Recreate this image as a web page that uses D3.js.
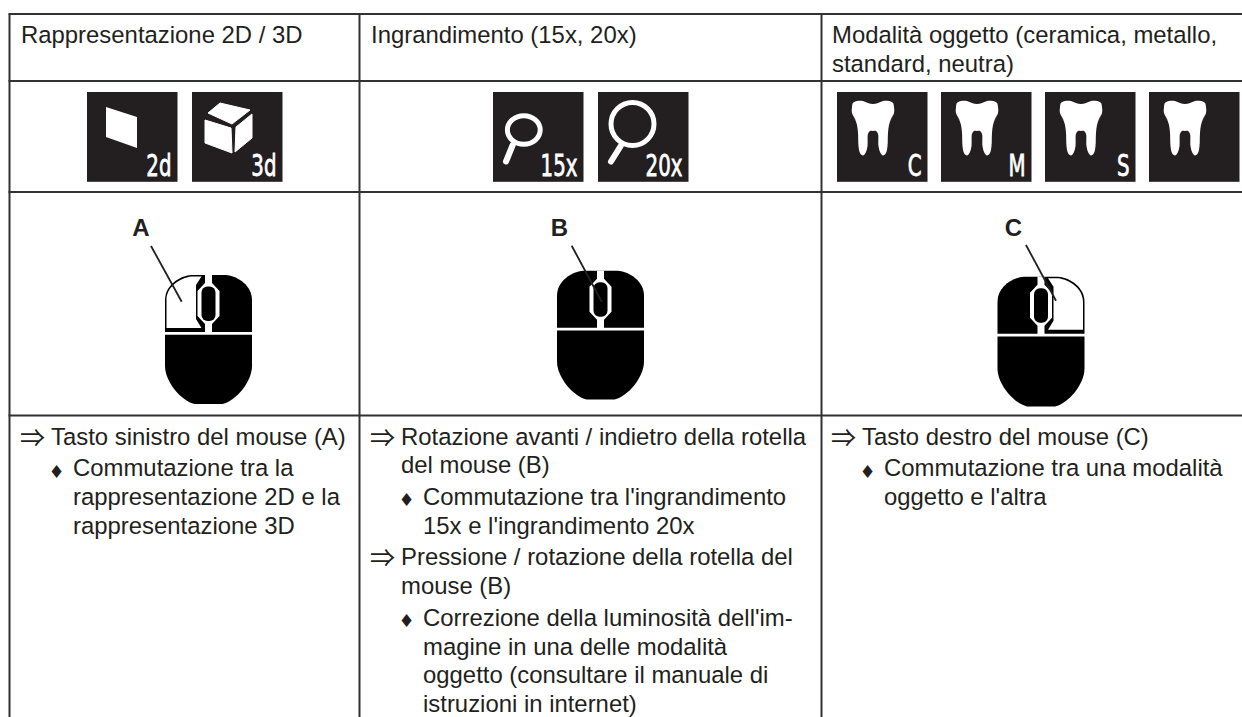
<!DOCTYPE html>
<html>
<head>
<meta charset="utf-8">
<script src="https://cdn.jsdelivr.net/npm/d3@7"></script>
<style>
  html, body { margin: 0; padding: 0; background: #fff; }
  svg { display: block; }
  text { font-family: "Liberation Sans", Arial, sans-serif; fill: #231f20; }
</style>
</head>
<body>
<div id="chart"></div>
<script>
// table content
const columnHeaders = [
  ["Rappresentazione 2D / 3D"],
  ["Ingrandimento (15x, 20x)"],
  ["Modalità oggetto (ceramica, metallo,", "standard, neutra)"]
];
const columnIcons = [
  [["flat", "2d"], ["cube", "3d"]],
  [["lensSmall", "15x"], ["lensBig", "20x"]],
  [["tooth", "C"], ["tooth", "M"], ["tooth", "S"], ["tooth", ""]]
];
const calloutLetters = ["A", "B", "C"];
const activeButtons = ["left", "", "right"];
const stepsFirst = [
  ["step", ["Tasto sinistro del mouse (A)"]],
  ["result", ["Commutazione tra la", "rappresentazione 2D e la", "rappresentazione 3D"]]
];
const stepsSecond = [
  ["step", ["Rotazione avanti / indietro della rotella", "del mouse (B)"]],
  ["result", ["Commutazione tra l'ingrandimento", "15x e l'ingrandimento 20x"]],
  ["step", ["Pressione / rotazione della rotella del", "mouse (B)"]],
  ["result", ["Correzione della luminosità dell'im-", "magine in una delle modalità", "oggetto (consultare il manuale di", "istruzioni in internet)"]]
];
const stepsThird = [
  ["step", ["Tasto destro del mouse (C)"]],
  ["result", ["Commutazione tra una modalità", "oggetto e l'altra"]]
];
const columnSteps = [stepsFirst, stepsSecond, stepsThird];

// icon outlines, in the 90 unit space of one icon
const flatOutline = [[19, 15], [50, 25], [50, 56], [19, 45]];
const cubeOutlines = [
  [[16, 21], [28, 11], [58, 18], [40, 32]],
  [[13, 28], [39, 36], [40, 61], [13, 51]],
  [[44, 35], [60, 22], [60, 46], [43, 60]]
];
const toothHalf = [[0, 3], [5, 2], [10, 0], [16, 0], [20, 2], [21, 6], [21, 12], [18, 18], [16, 24], [15, 32], [14.5, 45], [13, 52], [10, 54.5], [7.5, 52], [5.5, 45], [5, 33], [3, 30], [0, 30]];

const width = 1242, height = 717;
const fontSize = 23.9;
const lineColor = "#333132";
const iconColor = "#231f20";
const iconSize = 90.5;

// layout scales
const columnEdge = d3.scaleOrdinal().domain([0, 1, 2, 3]).range([9.5, 359.5, 821.5, 1242]);
const rowEdge = d3.scaleOrdinal().domain([0, 1, 2, 3, 4]).range([14, 81, 192, 415.5, 717]);
const iconLefts = [[87, 192], [493, 598], [837, 941, 1045, 1149]];
const mouseBoxes = [
  {cx: 208.5, top: 275, bottom: 404},
  {cx: 600.5, top: 270.7, bottom: 399.5},
  {cx: 1041, top: 276.7, bottom: 406.5}
];
const calloutX = [140.5, 559, 1013];
const calloutLines = [
  [[151, 246], [181.7, 301.7]],
  [[571.7, 245.7], [601.7, 301.7]],
  [[1026, 245], [1056, 300.7]]
];
const textLeft = [21, 371, 832];
const stepIndent = 30, resultIndent = 52;
const bodyStart = 444.6, bodyLine = 28.7, blockGap = 3;

const svg = d3.select("#chart").append("svg")
  .attr("width", width).attr("height", height);

// table rules
const rules = svg.append("g").attr("stroke", lineColor).attr("stroke-width", 2);
rules.selectAll("line.h").data([0, 1, 2, 3]).enter().append("line")
  .attr("class", "h")
  .attr("x1", columnEdge(0) - 1).attr("x2", width)
  .attr("y1", d => rowEdge(d)).attr("y2", d => rowEdge(d));
rules.selectAll("line.v").data([0, 1, 2]).enter().append("line")
  .attr("class", "v")
  .attr("x1", d => columnEdge(d)).attr("x2", d => columnEdge(d))
  .attr("y1", rowEdge(0)).attr("y2", rowEdge(4));

// header row
columnHeaders.forEach(function (lines, c) {
  svg.append("g").selectAll("text").data(lines).enter().append("text")
    .attr("x", textLeft[c])
    .attr("y", (d, i) => 42.8 + i * 29)
    .attr("font-size", fontSize)
    .text(d => d);
});

// icon row
const polyLine = d3.line();
const smoothLine = d3.line().curve(d3.curveCatmullRomClosed.alpha(0.5));

function drawIcon(g, kind) {
  const poly = pts => polyLine(pts) + "Z";
  if (kind === "flat") {
    g.append("path").attr("d", poly(flatOutline)).attr("fill", "#fff");
  } else if (kind === "cube") {
    g.selectAll("path.f").data(cubeOutlines).enter().append("path")
      .attr("class", "f").attr("d", poly).attr("fill", "#fff")
      .attr("stroke", "#fff").attr("stroke-width", 1).attr("stroke-linejoin", "round");
  } else if (kind === "lensSmall" || kind === "lensBig") {
    const big = kind === "lensBig";
    g.append("ellipse")
      .attr("cx", big ? 34.5 : 30.8).attr("cy", big ? 32 : 38)
      .attr("rx", big ? 21.5 : 16.4).attr("ry", big ? 21.5 : 14.2)
      .attr("fill", "none").attr("stroke", "#fff").attr("stroke-width", 5);
    g.append("path")
      .attr("d", polyLine(big ? [[22.7, 54], [13, 69.5]] : [[19.7, 53], [13, 69.5]]))
      .attr("stroke", "#fff").attr("stroke-width", 6).attr("stroke-linecap", "round");
  } else if (kind === "tooth") {
    const right = toothHalf.map(p => [36 + p[0], 9 + p[1]]);
    const left = toothHalf.slice(1, -1).reverse().map(p => [36 - p[0], 9 + p[1]]);
    g.append("path").attr("d", smoothLine(right.concat(left))).attr("fill", "#fff");
  }
}

columnIcons.forEach(function (icons, c) {
  icons.forEach(function (icon, i) {
    const g = svg.append("g").attr("transform", `translate(${iconLefts[c][i]},92)`);
    g.append("rect").attr("width", iconSize).attr("height", iconSize - 0.7).attr("fill", iconColor);
    drawIcon(g, icon[0]);
    if (icon[1]) {
      g.append("text")
        .attr("transform", "translate(84.5,83.5) scale(0.66,1)")
        .attr("text-anchor", "end")
        .attr("font-size", 30)
        .style("font-family", "'DejaVu Sans'")
        .style("fill", "#fff")
        .attr("stroke", "#fff").attr("stroke-width", 0.8)
        .text(icon[1]);
    }
  });
});

// mouse row
function drawMouse(c) {
  const box = mouseBoxes[c];
  const g = svg.append("g").attr("transform", `translate(${box.cx},${box.top})`);
  const h = box.bottom - box.top;
  const w = 43.5;
  const div = 57;

  const upper = d3.path();
  upper.moveTo(-w, div);
  upper.lineTo(-w, 25);
  upper.bezierCurveTo(-w, 11, -30, 1, -17, 0);
  upper.lineTo(17, 0);
  upper.bezierCurveTo(30, 1, w, 11, w, 25);
  upper.lineTo(w, div);
  upper.closePath();
  g.append("path").attr("d", upper.toString()).attr("fill", "#000");

  const lower = d3.path();
  lower.moveTo(-w, div + 2.7);
  lower.lineTo(w, div + 2.7);
  lower.lineTo(w, h - 38);
  lower.bezierCurveTo(w, h - 22, 27, h - 3, 14, h);
  lower.lineTo(-14, h);
  lower.bezierCurveTo(-27, h - 3, -w, h - 22, -w, h - 38);
  lower.closePath();
  g.append("path").attr("d", lower.toString()).attr("fill", "#000");

  // button that is pressed, white with a thin black rim
  const side = activeButtons[c];
  if (side) {
    const s = side === "left" ? -1 : 1;
    const b = d3.path();
    b.moveTo(s * 42, 53);
    b.lineTo(s * 42, 25);
    b.bezierCurveTo(s * 42, 12, s * 29, 3, s * 17, 1.5);
    b.lineTo(s * 7, 1.5);
    b.lineTo(s * 12.5, 10);
    b.lineTo(s * 12.5, 44);
    b.lineTo(s * 7, 53);
    b.closePath();
    g.append("path").attr("d", b.toString()).attr("fill", "#fff");
  }

  // wheel slot
  const slot = d3.path();
  slot.moveTo(-3.5, 0); slot.lineTo(-3.5, 8); slot.lineTo(-11, 16); slot.lineTo(-11, 41);
  slot.lineTo(-3.5, 49); slot.lineTo(-3.5, div + 1);
  slot.lineTo(3.5, div + 1); slot.lineTo(3.5, 49); slot.lineTo(11, 41); slot.lineTo(11, 16);
  slot.lineTo(3.5, 8); slot.lineTo(3.5, 0); slot.closePath();
  g.append("path").attr("d", slot.toString()).attr("fill", "#fff");
  g.append("rect").attr("x", -7).attr("y", 11.5).attr("width", 14).attr("height", 34.5)
    .attr("rx", 6).attr("fill", "#000");

  svg.append("text")
    .attr("x", calloutX[c] + 0.5).attr("y", 235.5)
    .attr("text-anchor", "middle")
    .attr("font-size", 24).attr("font-weight", "bold")
    .text(calloutLetters[c]);
  svg.append("path")
    .attr("d", polyLine(calloutLines[c]))
    .attr("stroke", "#231f20").attr("stroke-width", 1.8).attr("fill", "none");
}
calloutLetters.forEach((d, c) => drawMouse(c));

// instruction row
columnSteps.forEach(function (blocks, c) {
  const g = svg.append("g");
  let y = bodyStart;
  blocks.forEach(function (block) {
    const kind = block[0], lines = block[1];
    const x = textLeft[c] + (kind === "step" ? stepIndent : resultIndent);
    g.append("text")
      .attr("x", textLeft[c] + (kind === "step" ? -1 : 27.4))
      .attr("y", y + (kind === "step" ? 2 : 1.4))
      .attr("font-size", kind === "step" ? 25 : 18)
      .style("font-family", kind === "step" ? "'Noto Sans CJK JP'" : "'DejaVu Sans'")
      .text(kind === "step" ? "\u21D2" : "\u2666");
    lines.forEach(function (line, i) {
      g.append("text")
        .attr("x", x).attr("y", y + i * bodyLine)
        .attr("font-size", fontSize)
        .text(line);
    });
    y += lines.length * bodyLine + blockGap;
  });
});
</script>
</body>
</html>
